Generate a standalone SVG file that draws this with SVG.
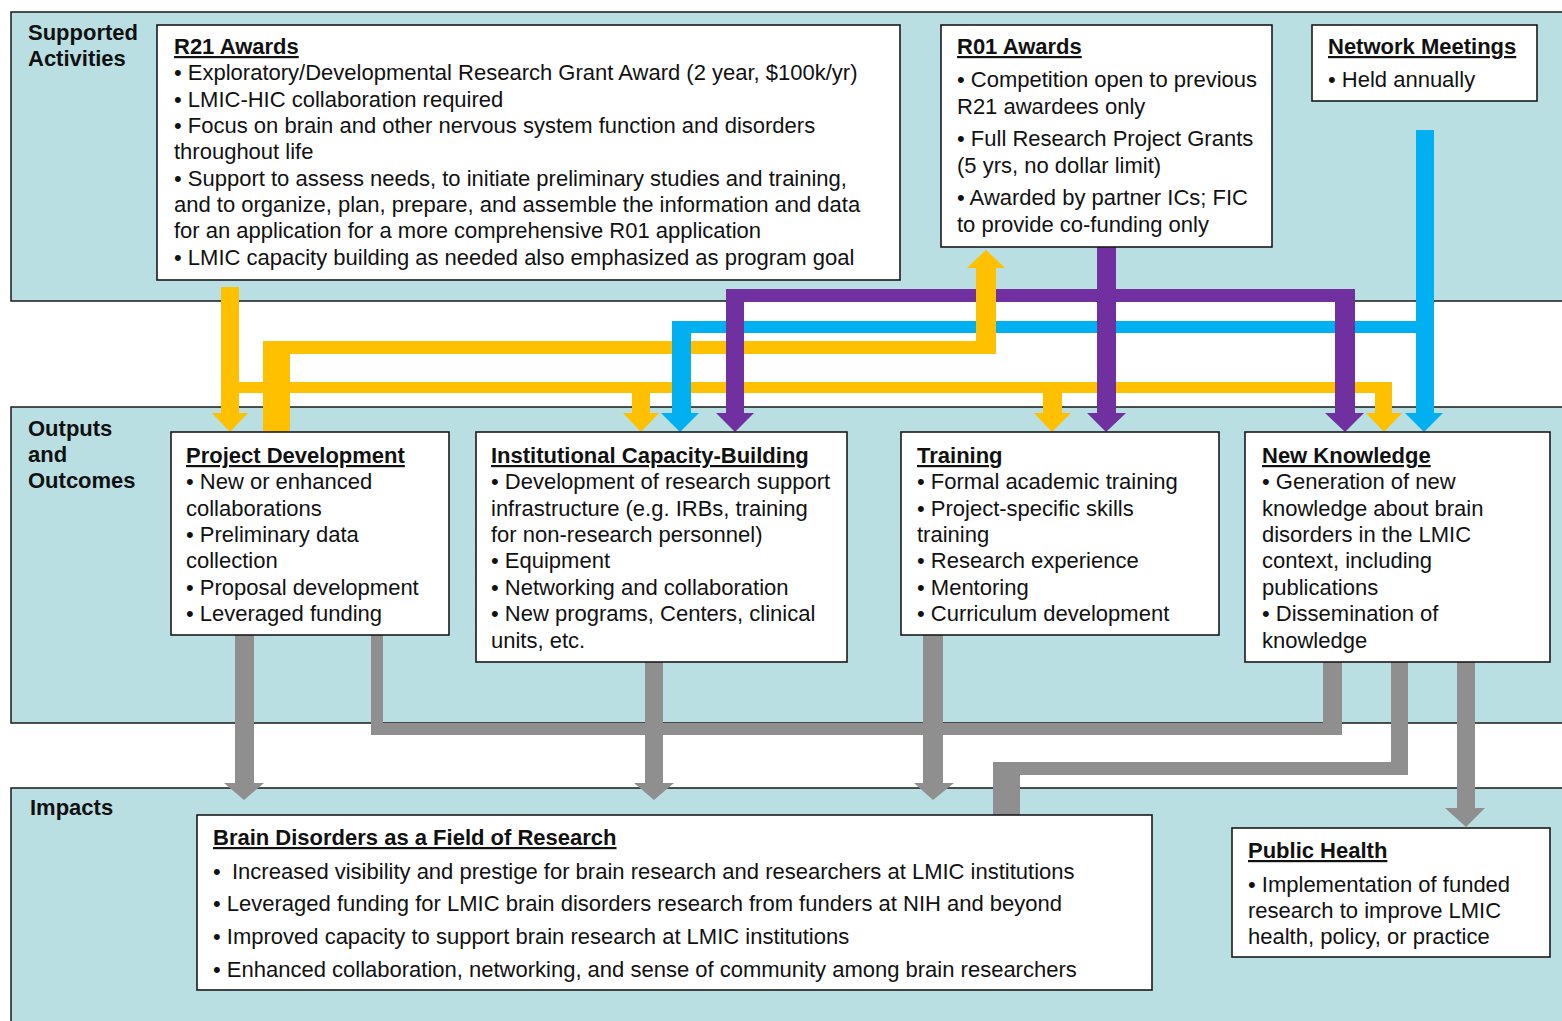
<svg xmlns="http://www.w3.org/2000/svg" width="1562" height="1021" viewBox="0 0 1562 1021">
  <style>
    .band { fill: #b9dfe3; stroke: #1a1a1a; stroke-width: 1.5; }
    .box { fill: #ffffff; stroke: #1a1a1a; stroke-width: 1.6; }
    text { font-family: "Liberation Sans", Arial, sans-serif; font-size: 22px; fill: #111111; }
    .lbl { font-weight: bold; }
    .ttl { font-weight: bold; text-decoration: underline; }
    .y { fill: #ffc000; }
    .p { fill: #7030a0; }
    .b { fill: #00b0f0; }
    .g { fill: #8f8f8f; }
  </style>

  <rect width="1562" height="1021" fill="#ffffff"/>

  <!-- horizontal bands -->
  <g id="bands">
    <rect class="band" x="11" y="12" width="1570" height="289"/>
    <rect class="band" x="11" y="407" width="1570" height="316"/>
    <rect class="band" x="11" y="788" width="1570" height="260"/>
    <text class="lbl" x="28" y="40">Supported</text>
    <text class="lbl" x="28" y="66">Activities</text>
    <text class="lbl" x="28" y="436">Outputs</text>
    <text class="lbl" x="28" y="462">and</text>
    <text class="lbl" x="28" y="488">Outcomes</text>
    <text class="lbl" x="30" y="815">Impacts</text>
  </g>

  <!-- flow connectors: horizontal runs first, vertical runs and heads over them -->
  <g id="connectors">
    <g id="runs-horizontal">
      <rect class="b" x="672" y="321" width="762" height="12"/>
      <rect class="p" x="726" y="289" width="629" height="13"/>
      <rect class="y" x="239" y="382" width="1153" height="11"/>
      <rect class="y" x="263" y="341" width="733" height="13"/>
    </g>
    <!-- blue: network meetings -->
    <g class="b">
      <rect x="1416" y="130" width="18" height="284"/>
      <polygon points="1405,413 1443,413 1424,432"/>
      <rect x="672" y="321" width="19" height="93"/>
      <polygon points="661,413 699,413 680,432"/>
    </g>
    <!-- purple: R01 awards -->
    <g class="p">
      <rect x="1097" y="247" width="19" height="167"/>
      <polygon points="1087,413 1126,413 1106,432"/>
      <rect x="726" y="289" width="18" height="125"/>
      <polygon points="716,413 754,413 735,432"/>
      <rect x="1335" y="289" width="20" height="125"/>
      <polygon points="1325,413 1364,413 1345,432"/>
    </g>
    <!-- yellow: R21 awards -->
    <g class="y">
      <rect x="221" y="287" width="18" height="127"/>
      <polygon points="212,413 248,413 230,432"/>
      <rect x="632" y="382" width="18" height="32"/>
      <polygon points="623,413 659,413 641,432"/>
      <rect x="1043" y="382" width="19" height="32"/>
      <polygon points="1034,413 1071,413 1052,432"/>
      <rect x="1375" y="382" width="17" height="32"/>
      <polygon points="1366,413 1402,413 1384,432"/>
      <rect x="263" y="341" width="27" height="91"/>
      <rect x="976" y="266" width="20" height="88"/>
      <polygon points="967,268 1005,268 986,250"/>
    </g>
    <!-- gray: outputs to impacts -->
    <g class="g">
      <rect x="235" y="635" width="19" height="149"/>
      <polygon points="224,783 264,783 244,800"/>
      <rect x="371" y="635" width="12" height="100"/>
      <rect x="371" y="723" width="971" height="12"/>
      <rect x="1323" y="662" width="19" height="73"/>
      <rect x="645" y="662" width="18" height="122"/>
      <polygon points="634,783 674,783 654,800"/>
      <rect x="923" y="635" width="20" height="149"/>
      <polygon points="914,783 954,783 933,800"/>
      <rect x="1391" y="662" width="17" height="113"/>
      <rect x="993" y="762" width="415" height="13"/>
      <rect x="993" y="762" width="27" height="53"/>
      <rect x="1457" y="662" width="18" height="147"/>
      <polygon points="1445,808 1485,808 1466,827"/>
    </g>
  </g>

  <g id="r21">
    <rect class="box" x="157" y="25" width="743" height="255"/>
    <text class="ttl" x="174" y="54">R21 Awards</text>
    <text x="174" y="80">• Exploratory/Developmental Research Grant Award (2 year, $100k/yr)</text>
    <text x="174" y="107">• LMIC-HIC collaboration required</text>
    <text x="174" y="133">• Focus on brain and other nervous system function and disorders</text>
    <text x="174" y="159">throughout life</text>
    <text x="174" y="186">• Support to assess needs, to initiate preliminary studies and training,</text>
    <text x="174" y="212">and to organize, plan, prepare, and assemble the information and data</text>
    <text x="174" y="238">for an application for a more comprehensive R01 application</text>
    <text x="174" y="265">• LMIC capacity building as needed also emphasized as program goal</text>
  </g>

  <g id="r01">
    <rect class="box" x="941" y="25" width="331" height="222"/>
    <text class="ttl" x="957" y="54">R01 Awards</text>
    <text x="957" y="87">• Competition open to previous</text>
    <text x="957" y="114">R21 awardees only</text>
    <text x="957" y="146">• Full Research Project Grants</text>
    <text x="957" y="173">(5 yrs, no dollar limit)</text>
    <text x="957" y="205">• Awarded by partner ICs; FIC</text>
    <text x="957" y="232">to provide co-funding only</text>
  </g>

  <g id="network-meetings">
    <rect class="box" x="1312" y="25" width="225" height="76"/>
    <text class="ttl" x="1328" y="54">Network Meetings</text>
    <text x="1328" y="87">• Held annually</text>
  </g>

  <g id="project-development">
    <rect class="box" x="171" y="432" width="278" height="203"/>
    <text class="ttl" x="186" y="463">Project Development</text>
    <text x="186" y="489">• New or enhanced</text>
    <text x="186" y="516">collaborations</text>
    <text x="186" y="542">• Preliminary data</text>
    <text x="186" y="568">collection</text>
    <text x="186" y="595">• Proposal development</text>
    <text x="186" y="621">• Leveraged funding</text>
  </g>

  <g id="institutional-capacity">
    <rect class="box" x="476" y="432" width="371" height="230"/>
    <text class="ttl" x="491" y="463">Institutional Capacity-Building</text>
    <text x="491" y="489">• Development of research support</text>
    <text x="491" y="516">infrastructure (e.g. IRBs, training</text>
    <text x="491" y="542">for non-research personnel)</text>
    <text x="491" y="568">• Equipment</text>
    <text x="491" y="595">• Networking and collaboration</text>
    <text x="491" y="621">• New programs, Centers, clinical</text>
    <text x="491" y="648">units, etc.</text>
  </g>

  <g id="training">
    <rect class="box" x="901" y="432" width="318" height="203"/>
    <text class="ttl" x="917" y="463">Training</text>
    <text x="917" y="489">• Formal academic training</text>
    <text x="917" y="516">• Project-specific skills</text>
    <text x="917" y="542">training</text>
    <text x="917" y="568">• Research experience</text>
    <text x="917" y="595">• Mentoring</text>
    <text x="917" y="621">• Curriculum development</text>
  </g>

  <g id="new-knowledge">
    <rect class="box" x="1245" y="432" width="305" height="230"/>
    <text class="ttl" x="1262" y="463">New Knowledge</text>
    <text x="1262" y="489">• Generation of new</text>
    <text x="1262" y="516">knowledge about brain</text>
    <text x="1262" y="542">disorders in the LMIC</text>
    <text x="1262" y="568">context, including</text>
    <text x="1262" y="595">publications</text>
    <text x="1262" y="621">• Dissemination of</text>
    <text x="1262" y="648">knowledge</text>
  </g>

  <g id="brain-disorders-field">
    <rect class="box" x="197" y="815" width="955" height="175"/>
    <text class="ttl" x="213" y="845">Brain Disorders as a Field of Research</text>
    <text x="213" y="879">•</text>
    <text x="232" y="879">Increased visibility and prestige for brain research and researchers at LMIC institutions</text>
    <text x="213" y="911">• Leveraged funding for LMIC brain disorders research from funders at NIH and beyond</text>
    <text x="213" y="944">• Improved capacity to support brain research at LMIC institutions</text>
    <text x="213" y="977">• Enhanced collaboration, networking, and sense of community among brain researchers</text>
  </g>

  <g id="public-health">
    <rect class="box" x="1232" y="828" width="318" height="129"/>
    <text class="ttl" x="1248" y="858">Public Health</text>
    <text x="1248" y="892">• Implementation of funded</text>
    <text x="1248" y="918">research to improve LMIC</text>
    <text x="1248" y="944">health, policy, or practice</text>
  </g>
</svg>
